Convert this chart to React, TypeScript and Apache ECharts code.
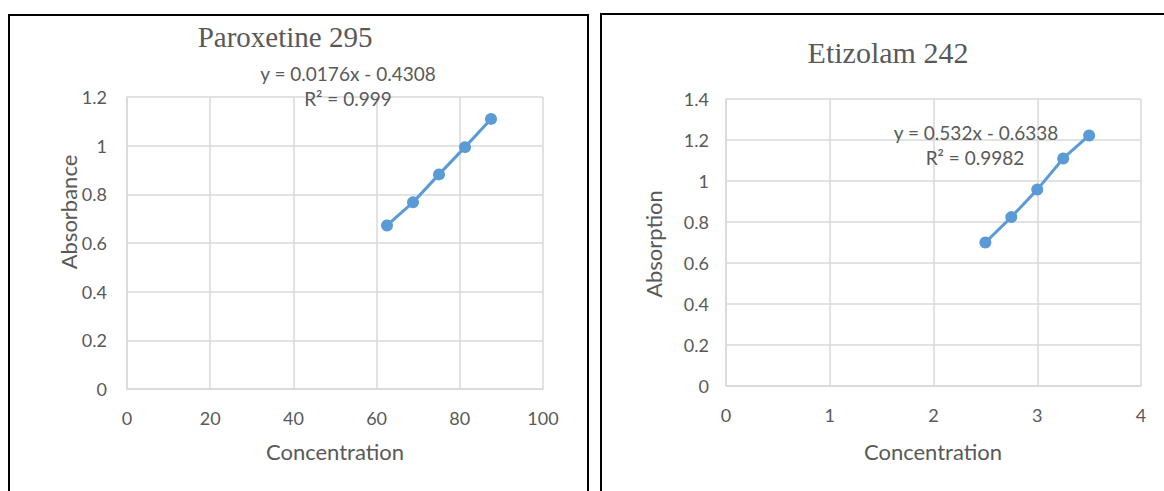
import React, { useEffect, useRef } from "react";
import * as echarts from "echarts";

const paroxConc = [62.5, 68.75, 75, 81.25, 87.5];
const paroxAbs = [0.672, 0.767, 0.882, 0.994, 1.11];
const etizConc = [2.5, 2.75, 3.0, 3.25, 3.5];
const etizAbs = [0.7, 0.824, 0.958, 1.11, 1.222];

const titles = ["Paroxetine 295", "Etizolam 242"];
const equations = ["y = 0.0176x - 0.4308", "y = 0.532x - 0.6338"];
const r2s = ["R² = 0.999", "R² = 0.9982"];
const xNames = ["Concentration", "Concentration"];
const yNames = ["Absorbance", "Absorption"];

const BLUE = "#5B9BD5";
const GREY = "#595959";
const GRID = "#D9D9D9";
const SANS = "Lato, 'Open Sans', sans-serif";
const SERIF = "'Liberation Serif', 'DejaVu Serif', serif";

export default function App() {
  const ref = useRef<HTMLDivElement>(null);
  useEffect(() => {
    document.body.style.margin = "0";
    const chart = echarts.init(ref.current!, undefined, { renderer: "svg" });
    const axisCommon = {
      axisLine: { show: true, lineStyle: { color: GRID, width: 1.5 } },
      axisTick: { show: false },
      splitLine: { show: true, lineStyle: { color: GRID, width: 1.5 } },
      axisLabel: { color: GREY, fontSize: 18, fontFamily: SANS, margin: 20 },
    };
    const txt = (text: string, x: number, y: number, size: number, family: string, rotation = 0) => ({
      type: "text",
      x,
      y,
      rotation,
      z: 50,
      style: { text, font: `${size}px ${family}`, fill: GREY, align: "center", verticalAlign: "middle" },
    });
    chart.setOption({
      animation: false,
      backgroundColor: "#fff",
      grid: [
        { left: 127, top: 97, width: 416, height: 292, containLabel: false },
        { left: 726, top: 99, width: 415, height: 287, containLabel: false },
      ],
      xAxis: [
        { ...axisCommon, gridIndex: 0, type: "value", min: 0, max: 100, interval: 20 },
        { ...axisCommon, gridIndex: 1, type: "value", min: 0, max: 4, interval: 1 },
      ],
      yAxis: [
        { ...axisCommon, gridIndex: 0, type: "value", min: 0, max: 1.2, interval: 0.2 },
        {
          ...axisCommon,
          gridIndex: 1,
          type: "value",
          min: 0,
          max: 1.4,
          interval: 0.2,
          axisLabel: { ...axisCommon.axisLabel, margin: 17 },
        },
      ],
      series: [
        {
          type: "line",
          xAxisIndex: 0,
          yAxisIndex: 0,
          data: paroxConc.map((x, i) => [x, paroxAbs[i]]),
          symbol: "circle",
          symbolSize: 12,
          lineStyle: { color: BLUE, width: 3 },
          itemStyle: { color: BLUE },
        },
        {
          type: "line",
          xAxisIndex: 1,
          yAxisIndex: 1,
          data: etizConc.map((x, i) => [x, etizAbs[i]]),
          symbol: "circle",
          symbolSize: 12,
          lineStyle: { color: BLUE, width: 3 },
          itemStyle: { color: BLUE },
        },
      ],
      graphic: [
        {
          type: "rect",
          shape: { x: 9, y: 15, width: 579, height: 490 },
          style: { fill: "none", stroke: "#000", lineWidth: 2 },
          z: 100,
        },
        {
          type: "rect",
          shape: { x: 601, y: 14, width: 580, height: 490 },
          style: { fill: "none", stroke: "#000", lineWidth: 2 },
          z: 100,
        },
        txt(titles[0], 285, 37, 29, SERIF),
        txt(titles[1], 888, 52, 30, SERIF),
        txt(equations[0], 348, 73, 19, SANS),
        txt(r2s[0], 348, 98, 19, SANS),
        txt(equations[1], 976, 132, 19, SANS),
        txt(r2s[1], 975, 157, 19, SANS),
        txt(xNames[0], 335, 451, 22, SANS),
        txt(xNames[1], 933, 451, 22, SANS),
        txt(yNames[0], 68, 212, 22, SANS, Math.PI / 2),
        txt(yNames[1], 653, 244, 22, SANS, Math.PI / 2),
      ],
    });
    return () => chart.dispose();
  }, []);
  return <div ref={ref} style={{ width: 1164, height: 491 }} />;
}
